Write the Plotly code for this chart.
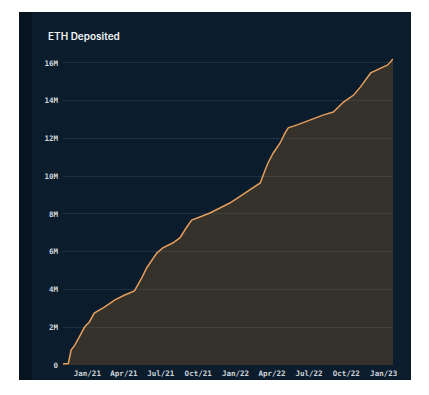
import plotly.graph_objects as go

dates = [
    "2020-11-02", "2020-11-15", "2020-11-22", "2020-12-01", "2020-12-12", "2020-12-25",
    "2021-01-06", "2021-01-18", "2021-02-12", "2021-03-09", "2021-04-03",
    "2021-04-27", "2021-05-15", "2021-05-27", "2021-06-21", "2021-07-06",
    "2021-07-30", "2021-08-17", "2021-09-03", "2021-09-15", "2021-10-05",
    "2021-10-30", "2021-12-18", "2022-02-06", "2022-03-03", "2022-03-15",
    "2022-03-22", "2022-04-04", "2022-04-21", "2022-05-03", "2022-05-11",
    "2022-06-02", "2022-07-04", "2022-08-06", "2022-08-30", "2022-09-17",
    "2022-09-24", "2022-10-19", "2022-11-05", "2022-11-30", "2022-12-25",
    "2023-01-11", "2023-01-24",
]
eth_deposited_m = [
    0.05, 0.08, 0.79, 1.05, 1.48, 2.01,
    2.28, 2.75, 3.07, 3.44, 3.71,
    3.92, 4.61, 5.14, 5.93, 6.20,
    6.46, 6.73, 7.31, 7.68, 7.84,
    8.05, 8.58, 9.27, 9.64, 10.33,
    10.70, 11.23, 11.76, 12.29, 12.56,
    12.72, 12.98, 13.25, 13.40, 13.77,
    13.93, 14.30, 14.73, 15.47, 15.74,
    15.89, 16.21,
]
y_tickvals = [0, 2, 4, 6, 8, 10, 12, 14, 16]
y_ticktext = ["0", "2M", "4M", "6M", "8M", "10M", "12M", "14M", "16M"]
title_text = "ETH Deposited"

# page body has an 8px margin, so figure pixel (0,0) sits at window (8,8)
OFF = 8
W, H = 429 - OFF, 395 - OFF
L, R, T, B = 63 - OFF, 36, 55 - OFF, 30
pw, ph = W - L - R, H - T - B

def px_x(x):
    return (x - OFF - L) / pw

def px_y(y):
    return (H - B - (y - OFF)) / ph

fig = go.Figure()
fig.add_trace(go.Scatter(
    x=dates, y=eth_deposited_m, mode="lines",
    line=dict(color="#e59e5c", width=1.5),
    fill="tozeroy", fillcolor="rgba(180,113,41,0.25)",
    hoverinfo="skip",
))

shapes = [
    dict(type="rect", xref="paper", yref="paper", layer="below",
         x0=px_x(19), x1=px_x(411), y0=px_y(380), y1=px_y(12),
         fillcolor="#0b1c2d", line=dict(width=0)),
    dict(type="rect", xref="paper", yref="paper", layer="below",
         x0=px_x(19), x1=px_x(32), y0=px_y(380), y1=px_y(12),
         fillcolor="#07141f", line=dict(width=0)),
]

fig.update_layout(
    width=W, height=H,
    margin=dict(l=L, r=R, t=T, b=B),
    paper_bgcolor="white",
    plot_bgcolor="rgba(0,0,0,0)",
    showlegend=False,
    shapes=shapes,
    annotations=[dict(
        text=title_text, xref="paper", yref="paper",
        x=px_x(46), y=px_y(36), xanchor="left", yanchor="middle",
        showarrow=False,
        font=dict(family="Inter", size=10, weight=600, color="#f2f4f6"),
    )],
    xaxis=dict(
        type="date",
        range=["2020-11-02", "2023-01-24"],
        tick0="2021-01-01", dtick="M3", tickformat="%b/%y",
        showgrid=False, zeroline=False, showline=False,
        ticks="", ticklabelstandoff=2,
        tickfont=dict(family="DejaVu Sans Mono", size=7.5, weight="bold", color="#cfd4d9"),
    ),
    yaxis=dict(
        range=[0, 16.42],
        tickvals=y_tickvals, ticktext=y_ticktext,
        showgrid=True, gridcolor="#1d3345", gridwidth=1,
        zeroline=False, showline=False,
        ticks="", ticklabelstandoff=4,
        tickfont=dict(family="DejaVu Sans Mono", size=7.5, weight="bold", color="#cfd4d9"),
    ),
)

fig.write_html("out.html")
